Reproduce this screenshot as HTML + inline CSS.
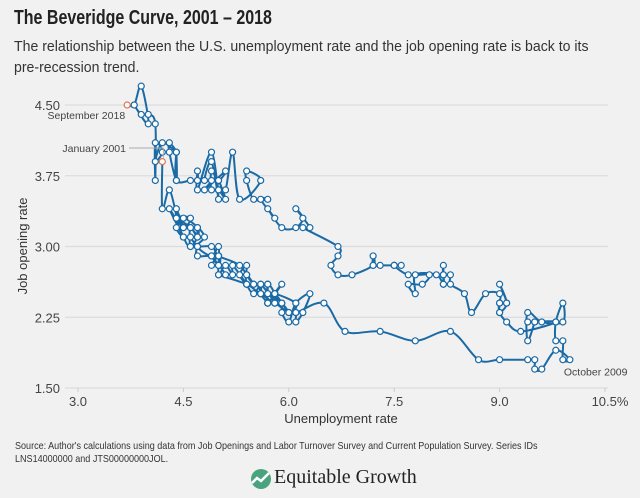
<!DOCTYPE html>
<html><head><meta charset="utf-8"><style>
body{margin:0;background:#f1f1f1;width:640px;height:498px;overflow:hidden;font-family:"Liberation Sans",sans-serif;color:#333}
#title{position:absolute;left:14px;top:7px;font-size:20px;font-weight:bold;color:#222;transform:scaleX(0.8);transform-origin:left top;white-space:nowrap}
#sub{position:absolute;left:14px;top:36px;font-size:15px;line-height:21px;color:#333;transform:scaleX(0.94);transform-origin:left top;white-space:nowrap}
#src{position:absolute;left:15px;top:440px;font-size:10.5px;line-height:13px;color:#333;white-space:nowrap;transform:scaleX(0.86);transform-origin:left top}
#logo{position:absolute;left:250px;top:466px;font-family:"Liberation Serif",serif;font-size:20px;color:#222}
svg{position:absolute;left:0;top:0}
</style></head><body>
<div id="title">The Beveridge Curve, 2001 – 2018</div>
<div id="sub">The relationship between the U.S. unemployment rate and the job opening rate is back to its<br>pre-recession trend.</div>
<svg id="chart" width="640" height="498"></svg>
<div id="src">Source: Author's calculations using data from Job Openings and Labor Turnover Survey and Current Population Survey. Series IDs<br>LNS14000000 and JTS00000000JOL.</div>
<div id="logo"><svg width="22" height="22" style="position:absolute;left:0;top:2px" viewBox="0 0 22 22"><circle cx="11" cy="11" r="10" fill="#4aa37f"/><path d="M2 15 L7 10 L11 13 L19 5" stroke="#fff" stroke-width="2.5" fill="none"/></svg><span style="margin-left:24px">Equitable Growth</span></div>
<script>
const xTicks=[3.0,4.5,6.0,7.5,9.0,10.5];
const xTickLabels=["3.0","4.5","6.0","7.5","9.0","10.5%"];
const yTicks=[1.5,2.25,3.0,3.75,4.5];
const yTickLabels=["1.50","2.25","3.00","3.75","4.50"];
const unemployment=[
4.2,4.2,4.3,4.4,4.3,4.5,4.6,4.9,5.0,5.3,5.5,5.7,
5.7,5.7,5.7,5.9,5.8,5.8,5.8,5.7,5.7,5.7,5.9,6.0,
5.8,5.9,5.9,6.0,6.1,6.3,6.2,6.1,6.1,6.0,5.8,5.7,
5.7,5.6,5.8,5.6,5.6,5.6,5.5,5.4,5.4,5.5,5.4,5.4,
5.3,5.4,5.2,5.2,5.1,5.0,5.0,4.9,5.0,5.0,5.0,4.9,
4.7,4.8,4.7,4.7,4.6,4.6,4.7,4.7,4.5,4.4,4.5,4.4,
4.6,4.5,4.4,4.5,4.4,4.6,4.7,4.6,4.7,4.7,4.7,5.0,
5.0,4.9,5.1,5.0,5.4,5.6,5.8,6.1,6.1,6.5,6.8,7.3,
7.8,8.3,8.7,9.0,9.4,9.5,9.5,9.6,9.8,10.0,9.9,9.9,
9.8,9.8,9.9,9.9,9.6,9.4,9.4,9.5,9.5,9.4,9.8,9.3,
9.1,9.0,9.0,9.1,9.0,9.1,9.0,9.0,9.0,8.8,8.6,8.5,
8.3,8.3,8.2,8.2,8.2,8.2,8.2,8.1,7.8,7.8,7.7,7.9,
8.0,7.7,7.5,7.6,7.5,7.5,7.3,7.2,7.2,7.2,6.9,6.7,
6.6,6.7,6.7,6.2,6.3,6.1,6.2,6.1,5.9,5.7,5.8,5.6,
5.7,5.5,5.4,5.4,5.6,5.3,5.2,5.1,5.0,5.0,5.1,5.0,
4.9,4.9,5.0,5.1,4.8,4.9,4.8,4.9,5.0,4.9,4.7,4.7,
4.7,4.6,4.4,4.4,4.4,4.3,4.3,4.4,4.2,4.1,4.2,4.1,
4.1,4.1,4.0,3.9,3.8,4.0,3.9,3.8,3.7];
const openings=[
3.9,3.4,3.6,3.3,3.4,3.1,3.0,3.0,2.9,2.8,2.6,2.6,
2.6,2.5,2.4,2.6,2.5,2.4,2.5,2.6,2.4,2.5,2.4,2.3,
2.5,2.4,2.3,2.2,2.4,2.5,2.3,2.2,2.3,2.3,2.4,2.4,
2.4,2.5,2.4,2.6,2.5,2.6,2.5,2.6,2.7,2.6,2.7,2.8,
2.7,2.6,2.8,2.7,2.8,2.7,2.9,2.8,2.9,2.8,3.0,2.9,
3.0,3.1,3.2,3.1,3.2,3.0,3.1,3.2,3.3,3.2,3.1,3.3,
3.3,3.2,3.4,3.2,3.3,3.2,3.1,3.1,3.0,3.0,2.9,2.9,
2.8,2.9,2.7,2.7,2.6,2.5,2.5,2.4,2.3,2.4,2.1,2.1,
2.0,2.1,1.8,1.8,1.8,1.8,1.7,1.7,1.9,1.8,1.8,2.0,
2.0,2.2,2.4,2.2,2.2,2.3,2.0,2.2,2.2,2.2,2.2,2.1,
2.2,2.3,2.4,2.4,2.6,2.4,2.3,2.4,2.5,2.5,2.3,2.5,
2.6,2.7,2.7,2.8,2.6,2.7,2.6,2.7,2.7,2.5,2.6,2.6,
2.7,2.7,2.8,2.8,2.8,2.8,2.8,2.8,2.9,2.8,2.7,2.7,
2.8,2.9,3.0,3.2,3.2,3.4,3.3,3.2,3.2,3.4,3.3,3.5,
3.5,3.5,3.7,3.8,3.7,3.5,4.0,3.6,3.6,3.7,3.5,3.6,
3.6,3.8,3.7,3.8,3.6,3.7,3.7,3.9,3.5,4.0,3.6,3.8,
3.7,3.7,3.7,4.0,3.7,4.0,4.1,4.0,4.1,3.9,4.0,4.1,
3.7,4.3,4.4,4.4,4.5,4.3,4.7,4.5,4.5];
const NS="http://www.w3.org/2000/svg";
const svg=document.getElementById('chart');
const X0=78,X1=605,Y0=388,Y1=105;
function xs(v){return X0+(v-3)/(10.5-3)*(X1-X0);}
function ys(v){return Y0-(v-1.5)/(4.5-1.5)*(Y0-Y1);}
function mk(tag,attrs,parent){const e=document.createElementNS(NS,tag);for(const k in attrs)e.setAttribute(k,attrs[k]);(parent||svg).appendChild(e);return e;}
yTicks.forEach((t,i)=>{
  const g=mk('line',{x1:65,x2:608,y1:ys(t),y2:ys(t),stroke:'#dcdcdc','stroke-width':1.2});
  
  
  const l=mk('text',{x:60,y:ys(t)+5,'text-anchor':'end','font-size':13,fill:'#444'});
  l.textContent=yTickLabels[i];
  
  
});
xTicks.forEach((t,i)=>{
  const tk=mk('line',{x1:xs(t),x2:xs(t),y1:Y0,y2:Y0+4,stroke:'#ccc'});
  
  
  const l=mk('text',{x:xs(t)+(i==5?5:0),y:406,'text-anchor':'middle','font-size':13,fill:'#444'});
  l.textContent=xTickLabels[i];
  
  
});
const xt=mk('text',{x:341,y:423,'text-anchor':'middle','font-size':13,fill:'#333'});
xt.textContent='Unemployment rate';


const yt=mk('text',{x:0,y:0,'text-anchor':'middle','font-size':13,fill:'#333',transform:'translate(27,246) rotate(-90)'});
yt.textContent='Job opening rate';


const P=unemployment.map((u,i)=>[xs(u),ys(openings[i])]);
let d='M'+P[0][0]+','+P[0][1];
const tn=0.25;
for(let i=0;i<P.length-1;i++){
  const p0=P[Math.max(0,i-1)],p1=P[i],p2=P[i+1],p3=P[Math.min(P.length-1,i+2)];
  const c1=[p1[0]+(p2[0]-p0[0])*tn/1.5,p1[1]+(p2[1]-p0[1])*tn/1.5];
  const c2=[p2[0]-(p3[0]-p1[0])*tn/1.5,p2[1]-(p3[1]-p1[1])*tn/1.5];
  d+=' C'+c1[0]+','+c1[1]+' '+c2[0]+','+c2[1]+' '+p2[0]+','+p2[1];
}
const path=mk('path',{d:d,fill:'none',stroke:'#1a6aa6','stroke-width':2});


P.forEach((p,i)=>{
  const hl=(i===0||i===P.length-1);
  const c=mk('circle',{cx:p[0],cy:p[1],r:3,fill:'#fff',stroke:hl?'#e0734f':'#1a6aa6','stroke-width':1.2});
  
  
});
function ann(txt,x,y,anchor,name){const t=mk('text',{x:x,y:y,'text-anchor':anchor,'font-size':10.5,fill:'#444'});t.textContent=txt;

}
ann('September 2018',xs(3.7)-2,119,'end','september-2018-label');
ann('January 2001',126,152,'end','january-2001-label');
const al=mk('polyline',{points:`129,148 ${xs(4.2)+1},148 ${xs(4.2)+1},${ys(3.9)-4}`,fill:'none',stroke:'#aaa','stroke-width':1});


ann('October 2009',xs(10.0)-6,ys(1.8)+16,'start','october-2009-label');
</script>
</body></html>
